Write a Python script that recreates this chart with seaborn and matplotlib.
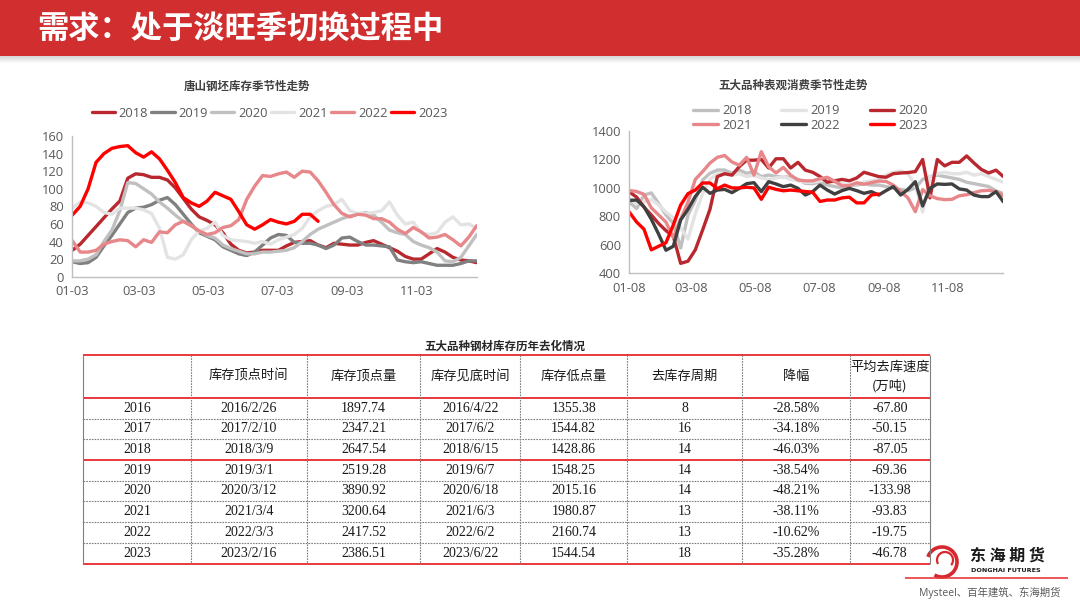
import numpy as np
import pandas as pd
import matplotlib
matplotlib.use('Agg')
import matplotlib.pyplot as plt
import matplotlib.dates as mdates
from matplotlib.patches import Rectangle, Arc
import seaborn as sns

# ---- data: Tangshan billet inventory (weekly, 10k t) ----
left_years = ['2018', '2019', '2020', '2021', '2022', '2023']
ts_2018 = [30, 37, 47, 57, 67, 77, 86, 112, 117, 116, 113, 113, 110, 101, 89, 77, 68, 64, 59, 50,
           37, 30, 27, 28, 30, 30, 30, 35, 39, 40, 41, 36, 33, 38, 37, 36, 36, 39, 41, 37,
           33, 29, 23, 20, 20, 26, 32, 28, 22, 19, 18, 16]
ts_2019 = [17, 15, 16, 22, 35, 47, 60, 73, 78, 79, 82, 87, 90, 82, 71, 60, 50, 46, 42, 34,
           30, 26, 24, 28, 36, 44, 48, 47, 39, 38, 38, 36, 32, 36, 44, 45, 40, 36, 36, 35,
           34, 19, 17, 16, 17, 15, 13, 13, 13, 15, 18, 18]
ts_2020 = [18, 18, 20, 25, 40, 53, 75, 107, 106, 100, 94, 85, 78, 70, 63, 58, 52, 47, 44, 36,
           32, 29, 26, 26, 28, 28, 29, 30, 33, 40, 48, 54, 58, 62, 66, 69, 71, 73, 70, 62,
           53, 50, 48, 40, 36, 33, 28, 18, 17, 22, 35, 48]
ts_2021 = [78, 85, 84, 80, 73, 71, 78, 78, 78, 76, 72, 55, 22, 20, 25, 42, 52, 55, 62, 47,
           42, 41, 40, 38, 40, 37, 42, 45, 48, 55, 68, 75, 80, 82, 88, 75, 72, 72, 73, 75,
           85, 70, 60, 62, 50, 48, 50, 62, 68, 59, 60, 55]
ts_2022 = [41, 28, 28, 30, 37, 40, 42, 41, 34, 42, 39, 51, 50, 59, 63, 58, 52, 48, 50, 56,
           58, 65, 88, 103, 115, 114, 117, 119, 113, 120, 119, 109, 96, 82, 72, 68, 71, 70, 66, 66,
           62, 54, 49, 56, 51, 44, 45, 48, 42, 35, 45, 58]
ts_2023 = [70, 80, 100, 130, 140, 146, 148, 149, 141, 136, 142, 134, 121, 107, 90, 84, 80, 86, 96, 92,
           88, 74, 59, 54, 59, 65, 62, 60, 63, 71, 71, 63]
left_ticks = ['01-03', '03-03', '05-03', '07-03', '09-03', '11-03']

# ---- data: apparent consumption of five major steel products (weekly, 10k t) ----
right_years = ['2018', '2019', '2020', '2021', '2022', '2023']
ac_2018 = [900, 855, 950, 965, 890, 810, 750, 578, 810, 915, 1056, 1103, 1126, 1126, 1103, 1126, 1103, 1114, 1079, 1091,
           1079, 1079, 1075, 1060, 1032, 1030, 1040, 1020, 1010, 1000, 1020, 1020, 1030, 1020, 1020, 1010, 1000, 990, 980, 1000,
           1060, 1080, 1090, 1080, 1070, 1060, 1040, 1030, 1020, 1010, 980, 960]
ac_2019 = [930, 890, 900, 920, 880, 830, 790, 720, 640, 820, 960, 1060, 1100, 1100, 1090, 1100, 1080, 1090, 1070, 1060,
           1070, 1080, 1060, 1050, 1040, 1040, 1050, 1060, 1040, 1030, 1020, 1030, 1040, 1050, 1060, 1090, 1110, 1120, 1100, 1020,
           830, 1080, 1100, 1110, 1100, 1100, 1110, 1090, 1100, 1080, 1060, 1040]
ac_2020 = [972, 935, 865, 810, 750, 700, 660, 470, 485, 565, 705, 850, 1080, 1100, 1090, 1150, 1195, 1195, 1200, 1140,
           1205, 1205, 1140, 1180, 1125, 1110, 1080, 1040, 1050, 1060, 1050, 1070, 1110, 1095, 1080, 1075, 1100, 1105, 1108, 1115,
           1200, 930, 1200, 1155, 1180, 1180, 1225, 1175, 1130, 1105, 1125, 1080]
ac_2021 = [982, 975, 955, 860, 810, 760, 650, 780, 900, 1060, 1115, 1175, 1215, 1228, 1182, 1160, 1215, 1090, 1255, 1150,
           1105, 1145, 1090, 1056, 1050, 1050, 1065, 1075, 1047, 1015, 1016, 1036, 1026, 1037, 1048, 1046, 1020, 975, 930, 833,
           988, 945, 925, 918, 920, 945, 952, 967, 980, 983, 974, 946]
ac_2022 = [912, 915, 868, 780, 675, 562, 590, 775, 850, 940, 1005, 962, 985, 990, 967, 997, 1030, 1037, 974, 1044,
           1028, 1009, 1020, 997, 950, 974, 1020, 985, 957, 981, 997, 981, 962, 974, 950, 981, 1009, 950, 990, 1044,
           873, 997, 1028, 1025, 1028, 993, 985, 950, 939, 939, 974, 903]
ac_2023 = [830, 760, 710, 565, 590, 615, 740, 880, 960, 985, 1035, 1035, 995, 1020, 1000, 1000, 1005, 1000, 920, 1005,
           990, 980, 985, 980, 975, 970, 905, 915, 915, 930, 935, 895, 895, 950, 957]
right_ticks = ['01-08', '03-08', '05-08', '07-08', '09-08', '11-08']

# ---- data: destocking table ----
tbl_years = ['2016', '2017', '2018', '2019', '2020', '2021', '2022', '2023']
peak_dates = ['2016/2/26', '2017/2/10', '2018/3/9', '2019/3/1', '2020/3/12', '2021/3/4', '2022/3/3', '2023/2/16']
peak_vals = [1897.74, 2347.21, 2647.54, 2519.28, 3890.92, 3200.64, 2417.52, 2386.51]
bottom_dates = ['2016/4/22', '2017/6/2', '2018/6/15', '2019/6/7', '2020/6/18', '2021/6/3', '2022/6/2', '2023/6/22']
low_vals = [1355.38, 1544.82, 1428.86, 1548.25, 2015.16, 1980.87, 2160.74, 1544.54]
cycle_weeks = [8, 16, 14, 14, 14, 13, 13, 18]
drop_pct = [-28.58, -34.18, -46.03, -38.54, -48.21, -38.11, -10.62, -35.28]
speed = [-67.80, -50.15, -87.05, -69.36, -133.98, -93.83, -19.75, -46.78]
tbl_header = ['', '库存顶点时间', '库存顶点量', '库存见底时间', '库存低点量', '去库存周期', '降幅', '平均去库速度\n(万吨)']

# ---------------------------------------------------------------
sns.set_theme(style='white')
plt.rcParams['font.family'] = ['Open Sans', 'Noto Sans CJK SC', 'DejaVu Sans']
plt.rcParams['axes.unicode_minus'] = False

def long_form(years, series, start):
    rows = []
    for y, vals in zip(years, series):
        dates = pd.date_range(start, periods=len(vals), freq='7D')
        rows.append(pd.DataFrame({'date': dates, 'value': vals, 'year': y}))
    return pd.concat(rows, ignore_index=True)

df_left = long_form(left_years, [ts_2018, ts_2019, ts_2020, ts_2021, ts_2022, ts_2023], '2023-01-03')
df_right = long_form(right_years, [ac_2018, ac_2019, ac_2020, ac_2021, ac_2022, ac_2023], '2023-01-08')

pal_left = {'2018': '#B8282E', '2019': '#808080', '2020': '#C0C0C0',
            '2021': '#E3E3E3', '2022': '#E8878A', '2023': '#FF0000'}
pal_right = {'2018': '#C0C0C0', '2019': '#E3E3E3', '2020': '#B8282E',
             '2021': '#E8878A', '2022': '#404040', '2023': '#FF0000'}

fig = plt.figure(figsize=(10.8, 6.08), dpi=100)

# page background layer in pixel coordinates
bg = fig.add_axes([0, 0, 1, 1])
bg.set_xlim(0, 1080)
bg.set_ylim(608, 0)
bg.axis('off')

# header bar with a soft shadow
for k in range(8):
    bg.add_patch(Rectangle((0, 55 + k), 1080, 1, color='#808080', alpha=0.35 * (1 - k / 8), lw=0))
bg.add_patch(Rectangle((0, 0), 1080, 56, color='#D12F2F', lw=0))
bg.text(37, 30, '需求：处于淡旺季切换过程中', color='white', fontsize=22.5, fontweight='bold',
        family=['Noto Sans CJK SC', 'DejaVu Sans'], va='center', ha='left')


def style_chart(ax, ticks, start, end, ylim, yticks):
    ax.set_xlim(pd.Timestamp(start), pd.Timestamp(end))
    ax.set_ylim(*ylim)
    ax.set_yticks(yticks)
    ax.set_xticks([pd.Timestamp('2023-' + t) for t in ticks])
    ax.xaxis.set_major_formatter(mdates.DateFormatter('%m-%d'))
    ax.set_xlabel('')
    ax.set_ylabel('')
    sns.despine(ax=ax)
    for s in ['left', 'bottom']:
        ax.spines[s].set_color('#BFBFBF')
        ax.spines[s].set_linewidth(1.0)
    ax.tick_params(axis='both', labelsize=9.3, colors='#595959', length=4, width=1,
                   direction='out', pad=2)
    ax.tick_params(axis='both', color='#BFBFBF')
    ax.grid(False)
    ax.set_facecolor('none')


# left chart
axl = fig.add_axes([0.0669, 0.5449, 0.3745, 0.2314])
sns.lineplot(data=df_left, x='date', y='value', hue='year', hue_order=left_years,
             palette=pal_left, linewidth=2.4, ax=axl)
style_chart(axl, left_ticks, '2023-01-03', '2023-12-26', (0, 160), range(0, 161, 20))
h, l = axl.get_legend_handles_labels()
axl.legend(h, l, ncol=6, loc='center', bbox_to_anchor=(0.2495, 0.814), bbox_transform=fig.transFigure,
           frameon=False, fontsize=9.3, handlelength=1.8, handletextpad=0.3, columnspacing=0.25,
           labelcolor='#595959')
fig.text(0.2287, 0.858, '唐山钢坯库存季节性走势', fontsize=8.3, fontweight='bold', color='#404040',
         ha='center', va='center', family=['Noto Sans CJK SC', 'DejaVu Sans'])

# right chart
axr = fig.add_axes([0.5827, 0.5505, 0.3463, 0.2340])
sns.lineplot(data=df_right, x='date', y='value', hue='year', hue_order=right_years,
             palette=pal_right, linewidth=2.4, ax=axr)
style_chart(axr, right_ticks, '2023-01-08', '2023-12-31', (400, 1400), range(400, 1401, 200))
h, l = axr.get_legend_handles_labels()
# legend fills column-wise; reorder so rows read 2018-2020 / 2021-2023
order = [0, 3, 1, 4, 2, 5]
axr.legend([h[i] for i in order], [l[i] for i in order], ncol=3, loc='center',
           bbox_to_anchor=(0.7505, 0.806), bbox_transform=fig.transFigure,
           frameon=False, fontsize=9.3, handlelength=1.9, handletextpad=0.35, columnspacing=2.3,
           labelcolor='#595959', labelspacing=0.1)
fig.text(0.7343, 0.860, '五大品种表观消费季节性走势', fontsize=8.3, fontweight='bold', color='#404040',
         ha='center', va='center', family=['Noto Sans CJK SC', 'DejaVu Sans'])

# ---- table ----
bg.text(505, 346, '五大品种钢材库存历年去化情况', fontsize=8.3, fontweight='bold', color='#262626',
        ha='center', va='center', family=['Noto Sans CJK SC', 'DejaVu Sans'])
col_edges = [82.7, 191, 306.6, 420.4, 520, 627.4, 742.3, 849.6, 930]
row_edges = [355, 398, 419, 439, 460, 481, 501, 522, 543, 564]
x_mid = [(a + b) / 2 for a, b in zip(col_edges[:-1], col_edges[1:])]

red_rows = {0, 1, 4, 9}
for i, y in enumerate(row_edges):
    if i in red_rows:
        bg.hlines(y, col_edges[0], col_edges[-1], color='#E8393D', lw=1.4)
    else:
        bg.hlines(y, col_edges[0], col_edges[-1], color='#7F7F7F', lw=0.8,
                  linestyle=(0, (1.5, 1)))
for j, x in enumerate(col_edges):
    bg.vlines(x, row_edges[0], row_edges[-1], color='#7F7F7F', lw=0.8,
              linestyle='-' if j in (0, len(col_edges) - 1) else (0, (1.5, 1)))

hdr_font = ['Noto Sans CJK SC', 'DejaVu Sans']
hy = (row_edges[0] + row_edges[1]) / 2
for xm, txt in zip(x_mid, tbl_header):
    bg.text(xm, hy, txt, fontsize=9.5, color='#1A1A1A', ha='center', va='center',
            family=hdr_font, linespacing=1.5)

num_font = ['Liberation Serif', 'DejaVu Serif']
for r in range(len(tbl_years)):
    cy = (row_edges[r + 1] + row_edges[r + 2]) / 2
    cells = [tbl_years[r], peak_dates[r], f'{peak_vals[r]:.2f}', bottom_dates[r],
             f'{low_vals[r]:.2f}', str(cycle_weeks[r]), f'{drop_pct[r]:.2f}%', f'{speed[r]:.2f}']
    for xm, txt in zip(x_mid, cells):
        bg.text(xm, cy, txt, fontsize=10, color='#1A1A1A', ha='center', va='center',
                family=num_font)

# ---- logo and source ----
bg.add_patch(Arc((942, 562), 30, 30, theta1=200, theta2=480, color='#D7282F', lw=2.6))
bg.add_patch(Arc((945, 560), 16, 16, theta1=150, theta2=400, color='#D7282F', lw=1.6))
bg.text(1007, 556, '东 海 期 货', fontsize=11.5, fontweight='bold', color='#1A1A1A',
        ha='center', va='center', family=['Noto Sans CJK SC', 'DejaVu Sans'])
bg.text(1006, 570, 'DONGHAI FUTURES', fontsize=4.6, fontweight='bold', color='#1A1A1A',
        ha='center', va='center', family=['DejaVu Sans'])
bg.hlines(578, 905, 1068, color='#E8393D', lw=1.2)
bg.text(990, 593, 'Mysteel、百年建筑、东海期货', fontsize=7.5, color='#595959',
        ha='center', va='center', family=['Open Sans', 'Noto Sans CJK SC', 'DejaVu Sans'])

fig.savefig('out.png', dpi=100)
